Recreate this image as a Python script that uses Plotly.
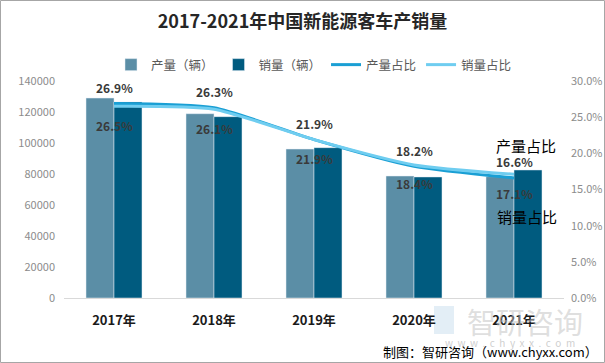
import plotly.graph_objects as go

years = ["2017年", "2018年", "2019年", "2020年", "2021年"]
production = [129000, 118900, 96100, 78700, 78300]
sales = [126500, 117000, 97000, 78100, 82600]
prod_share = [0.269, 0.263, 0.219, 0.182, 0.166]
sales_share = [0.265, 0.261, 0.219, 0.184, 0.171]

FONT = "Noto Sans CJK SC"

fig = go.Figure()
fig.add_trace(go.Bar(x=years, y=production, name="产量（辆）", marker_color="#5b8ea6"))
fig.add_trace(go.Bar(x=years, y=sales, name="销量（辆）", marker_color="#005b7f"))
fig.add_trace(go.Scatter(
    x=years, y=prod_share, name="产量占比", yaxis="y2", mode="lines",
    line=dict(color="#1a9fd4", width=3, shape="spline", smoothing=0.6)))
fig.add_trace(go.Scatter(
    x=years, y=sales_share, name="销量占比", yaxis="y2", mode="lines",
    line=dict(color="#6fcdf0", width=3, shape="spline", smoothing=0.6)))

# Data labels
for yr, v in zip(years, prod_share):
    fig.add_annotation(x=yr, y=v, xref="x", yref="y2", yshift=16, showarrow=False,
                       text=f"<b>{v*100:.1f}%</b>",
                       font=dict(family=FONT, size=12, color="#3a3a3a"))
for yr, v in zip(years, sales_share):
    fig.add_annotation(x=yr, y=v, xref="x", yref="y2", yshift=-19, showarrow=False,
                       text=f"<b>{v*100:.1f}%</b>",
                       font=dict(family=FONT, size=12, color="#3a3a3a"))

fig.update_layout(
    width=605, height=363,
    margin=dict(l=64, r=41, t=81, b=65, autoexpand=False),
    paper_bgcolor="white", plot_bgcolor="white",
    font=dict(family=FONT, color="#595959"),
    barmode="group", bargap=0.44, bargroupgap=0,
    title=dict(text="<b>2017-2021年中国新能源客车产销量</b>", x=0.5, xanchor="center",
               y=1 - 22 / 363, yanchor="middle",
               font=dict(family=FONT, size=18, color="#262626")),
    legend=dict(orientation="h", x=0.5, xanchor="center", y=1 + 16 / 217, yanchor="middle",
                font=dict(family=FONT, size=12.5, color="#595959"), itemwidth=30,
                traceorder="normal"),
    xaxis=dict(showgrid=False, showline=True, linecolor="#d9d9d9", linewidth=1,
               tickfont=dict(family=FONT, size=13, color="#1a1a1a"), ticklabelstandoff=10,
               tickvals=years, ticktext=[f"<b>{y}</b>" for y in years]),
    yaxis=dict(range=[0, 140000], dtick=20000, tickformat="d", showgrid=False, zeroline=False,
               tickfont=dict(family=FONT, size=11, color="#8c8c8c"), ticklabelstandoff=8),
    yaxis2=dict(range=[0, 0.30], dtick=0.05, tickformat=".1%", overlaying="y", side="right",
                showgrid=False, zeroline=False,
                tickfont=dict(family=FONT, size=11, color="#8c8c8c"), ticklabelstandoff=6),
)


def px_ann(text, xpx, ypx, size, color, xanchor="center"):
    fig.add_annotation(text=text, xref="paper", yref="paper",
                       x=(xpx - 64) / 500, y=(298 - ypx) / 217,
                       xanchor=xanchor, yanchor="middle", showarrow=False,
                       font=dict(family=FONT, size=size, color=color))


# Watermark
fig.add_shape(type="rect", xref="paper", yref="paper",
              x0=(434 - 64) / 500, x1=(454 - 64) / 500, y0=(298 - 334) / 217, y1=(298 - 306) / 217,
              line=dict(width=0), fillcolor="rgba(175,205,230,0.35)", layer="below")
px_ann("智研咨询", 525, 321, 29, "rgba(195,195,195,0.55)")
px_ann("w  w  w  .  c  h  y  x  x  .  c  o  m", 510, 342, 10, "rgba(190,190,190,0.75)")

# Series name annotations
px_ann("产量占比", 526, 145, 15, "#000000")
px_ann("销量占比", 527, 216, 15, "#000000")

# Footer
px_ann("制图：智研咨询（www.chyxx.com）", 600, 351, 13, "#000000", xanchor="right")

# Border
fig.add_shape(type="rect", xref="paper", yref="paper",
              x0=-63.5 / 500, x1=1 + 40.5 / 500, y0=-64.5 / 217, y1=1 + 80.5 / 217,
              line=dict(color="#a6a6a6", width=1))

fig.write_html("out.html", config={"displayModeBar": False},
               post_script="document.body.style.margin='0';document.body.style.padding='0';")
